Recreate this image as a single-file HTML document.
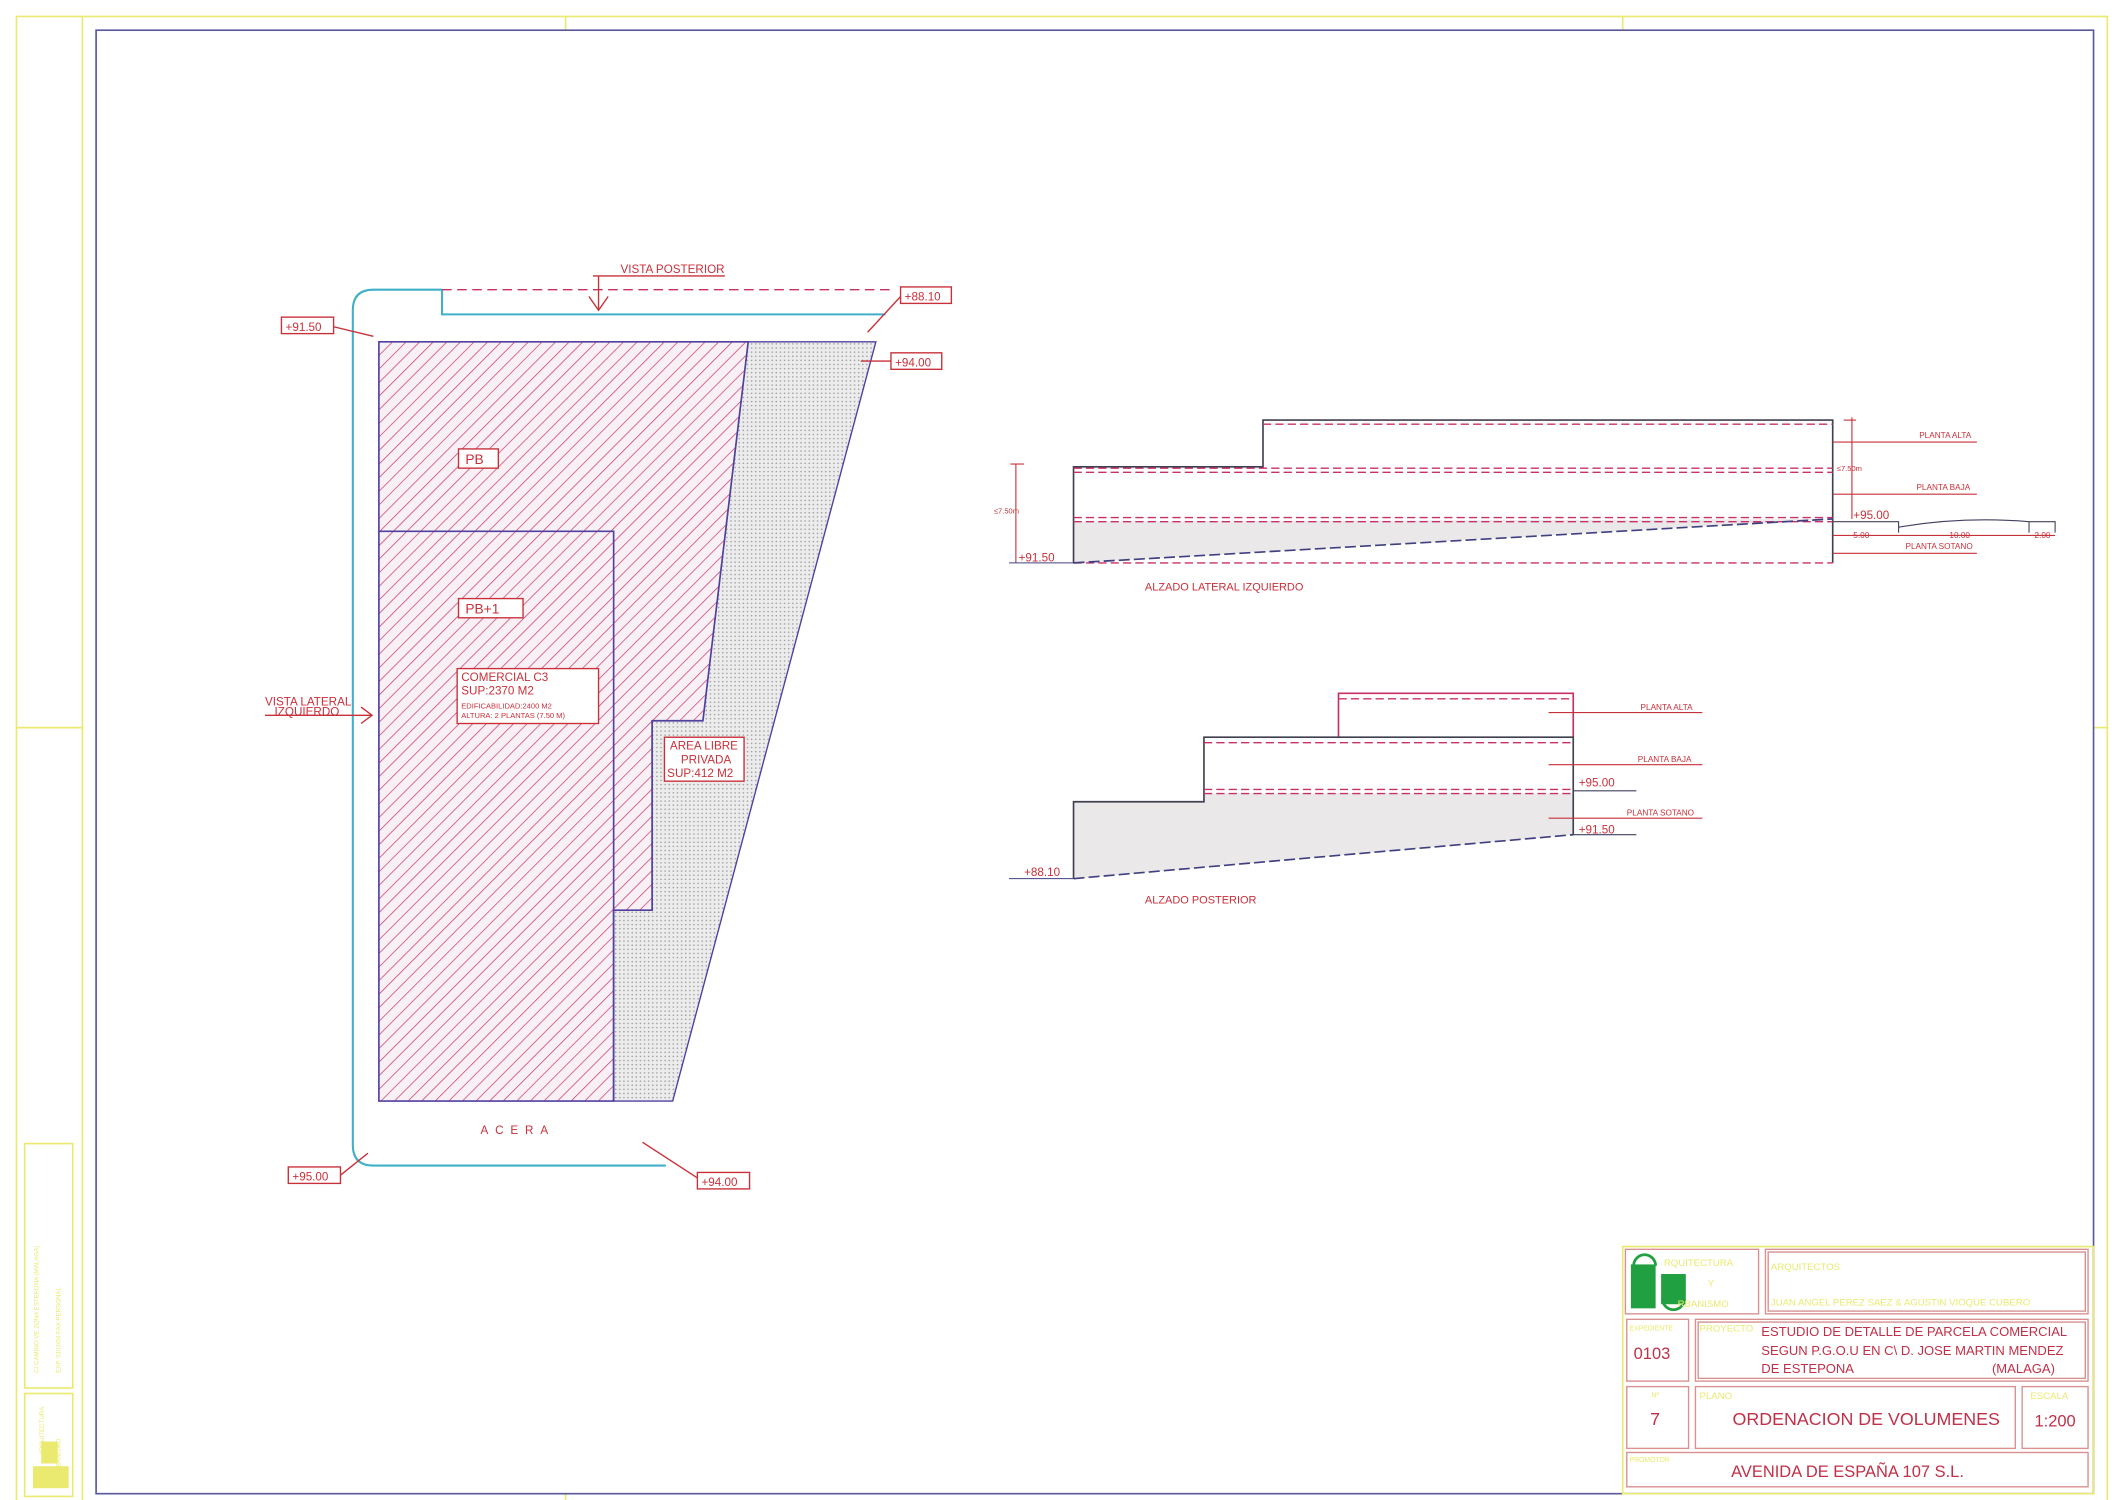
<!DOCTYPE html>
<html><head><meta charset="utf-8"><style>
html,body{margin:0;padding:0;background:#fff;}
svg{display:block;}
text{font-family:"Liberation Sans",sans-serif;}
</style></head><body>
<svg width="2121" height="1500" viewBox="0 0 1545 1092.6" preserveAspectRatio="none" xmlns="http://www.w3.org/2000/svg">
<defs>
<pattern id="hatch" patternUnits="userSpaceOnUse" width="7" height="7" patternTransform="rotate(45)">
<rect width="7" height="7" fill="#f8f0f5"/>
<line x1="0" y1="0" x2="0" y2="7" stroke="#c8306a" stroke-width="1"/>
</pattern>
<pattern id="dots" patternUnits="userSpaceOnUse" width="3" height="3">
<rect width="3" height="3" fill="#ececec"/>
<circle cx="1.5" cy="1.5" r="0.6" fill="#a0a0a0"/>
</pattern>
</defs>
<rect width="1545" height="1093" fill="#fff"/>
<g fill="none" stroke="#eaea70" stroke-width="1.2">
<rect x="12" y="12" width="1523" height="1086"/>
<line x1="60" y1="12" x2="60" y2="1098"/>
<line x1="12" y1="530" x2="60" y2="530"/>
<line x1="412" y1="12" x2="412" y2="22"/>
<line x1="1182" y1="12" x2="1182" y2="22"/>
<line x1="1525" y1="530" x2="1535" y2="530"/>
<line x1="412" y1="1088" x2="412" y2="1098"/>
<rect x="18" y="833" width="35" height="178"/>
<rect x="18" y="1015" width="35" height="75"/>
</g>
<g fill="#eaea70" font-size="4.5">
<text transform="translate(28,1000) rotate(-90)">C/ CAMINO VE  ZONA ESTEPONA (MALAGA)</text>
<text transform="translate(44,1000) rotate(-90)">EXP. 0103/04   FAX PERSONAL</text>
<text transform="translate(32,1060) rotate(-90)">ARQUITECTURA</text>
<text transform="translate(44,1075) rotate(-90)">URBANISMO</text>
<rect x="30" y="1050" width="12" height="16"/>
<rect x="24" y="1068" width="26" height="16"/>
</g>
<rect x="70" y="22" width="1455" height="1066" fill="none" stroke="#5a5a9a" stroke-width="1.2"/>

<polygon points="545,249 638,249 490,802 447,802 447,663 475,663 475,525 512,525" fill="url(#dots)" stroke="#5040a0" stroke-width="1"/>
<polygon points="276,249 545,249 512,525 475,525 475,663 447,663 447,802 276,802" fill="url(#hatch)" stroke="#5040a0" stroke-width="1.2"/>
<polyline points="276,387 447,387 447,802" fill="none" stroke="#5040a0" stroke-width="1.2"/>
<path d="M322,211 H272 Q257,211 257,226 V834 Q257,849 272,849 H485" fill="none" stroke="#40b0c8" stroke-width="1.5"/>
<polyline points="322,211 322,229 645,229" fill="none" stroke="#40b0c8" stroke-width="1.5"/>
<line x1="322" y1="211" x2="648" y2="211" stroke="#c8306a" stroke-width="1" stroke-dasharray="7,4"/>
<g stroke="#c8303a" stroke-width="1" fill="none">
<line x1="432" y1="201" x2="528" y2="201"/>
<line x1="436" y1="201" x2="436" y2="226"/>
<polyline points="429,216 436,226 443,216"/>
<rect x="656" y="209" width="37" height="12"/><line x1="656" y1="216" x2="632" y2="242"/>
<rect x="205" y="231" width="38" height="12"/><line x1="243" y1="238" x2="272" y2="245"/>
<rect x="649" y="257" width="37" height="12"/><line x1="627" y1="263" x2="649" y2="263"/>
<rect x="334" y="327" width="29" height="14" fill="#fff"/>
<rect x="334" y="436" width="47" height="14" fill="#fff"/>
<rect x="333" y="487" width="103" height="40" fill="#fff"/>
<line x1="193" y1="521" x2="271" y2="521"/><polyline points="263,515 271,521 263,527"/>
<rect x="484" y="537" width="58" height="32" fill="#fff"/>
<rect x="210" y="850" width="38" height="12"/><line x1="248" y1="856" x2="268" y2="840"/>
<rect x="508" y="854" width="38" height="12"/><line x1="508" y1="858" x2="468" y2="832"/>
</g>
<g fill="#c8303a" font-size="8.5">
<text x="452" y="199">VISTA  POSTERIOR</text>
<text x="659" y="219">+88.10</text>
<text x="208" y="241">+91.50</text>
<text x="652" y="267">+94.00</text>
<text x="339" y="338" font-size="10">PB</text>
<text x="339" y="447" font-size="10">PB+1</text>
<text x="336" y="496" font-size="8.5">COMERCIAL  C3</text>
<text x="336" y="506" font-size="8.5">SUP:2370  M2</text>
<text x="336" y="516" font-size="5.5">EDIFICABILIDAD:2400  M2</text>
<text x="336" y="523" font-size="5.5">ALTURA:  2  PLANTAS  (7.50  M)</text>
<text x="193" y="514" font-size="8.5">VISTA  LATERAL</text>
<text x="200" y="521" font-size="8.5">IZQUIERDO</text>
<text x="488" y="546" font-size="8.5">AREA  LIBRE</text>
<text x="496" y="556" font-size="8.5">PRIVADA</text>
<text x="486" y="566" font-size="8.5">SUP:412  M2</text>
<text x="350" y="826" letter-spacing="5" font-size="8.5">ACERA</text>
<text x="213" y="860">+95.00</text>
<text x="511" y="864">+94.00</text>
</g>

<polygon points="782,380 1332,378 782,410" fill="#ebe8ea"/>
<g fill="none" stroke="#404050" stroke-width="1.2">
<polyline points="782,410 782,340 920,340 920,306 1335,306 1335,410"/>
</g>
<g fill="none" stroke="#c8306a" stroke-width="1" stroke-dasharray="6,3">
<line x1="920" y1="309" x2="1335" y2="309"/>
<line x1="782" y1="341" x2="1335" y2="341"/>
<line x1="782" y1="344" x2="1335" y2="344"/>
<line x1="782" y1="377" x2="1335" y2="377"/>
<line x1="782" y1="380" x2="1335" y2="380"/>
<line x1="782" y1="410" x2="1335" y2="410"/>
</g>
<line x1="782" y1="410" x2="1335" y2="378" stroke="#404080" stroke-width="1.2" stroke-dasharray="8,3"/>
<g fill="none" stroke="#c8303a" stroke-width="0.8">
<line x1="740" y1="338" x2="740" y2="410"/><line x1="736" y1="338" x2="746" y2="338"/>
<line x1="735" y1="410" x2="782" y2="410" stroke="#404080"/>
<line x1="1349" y1="304" x2="1349" y2="378"/><line x1="1343" y1="306" x2="1352" y2="306"/>
<line x1="1335" y1="322" x2="1440" y2="322"/>
<line x1="1335" y1="360" x2="1440" y2="360"/>
<line x1="1335" y1="403" x2="1440" y2="403"/>
<line x1="1335" y1="390" x2="1497" y2="390"/>
</g>
<path d="M1335,380 H1383 V388 M1383,384 Q1430,376 1478,380 M1478,388 V380 H1497 V388" fill="none" stroke="#404060" stroke-width="0.8"/>
<g fill="#c8303a" font-size="6">
<text x="724" y="374" font-size="5.5">≤7.50m</text>
<text x="742" y="409" font-size="8.5">+91.50</text>
<text x="1338" y="343" font-size="5.5">≤7.50m</text>
<text x="1398" y="319">PLANTA ALTA</text>
<text x="1396" y="357">PLANTA BAJA</text>
<text x="1350" y="378" font-size="8.5">+95.00</text>
<text x="1350" y="392" font-size="6">5.00</text>
<text x="1420" y="392" font-size="6">10.00</text>
<text x="1482" y="392" font-size="6">2.00</text>
<text x="1388" y="400">PLANTA SOTANO</text>
<text x="834" y="430" font-size="8">ALZADO  LATERAL  IZQUIERDO</text>
</g>

<polygon points="782,584 877,584 877,578 1146,578 1146,608 782,640" fill="#ebe8ea"/>
<polyline points="975,537 975,505 1146,505 1146,537" fill="none" stroke="#c8306a" stroke-width="1.2"/>
<polyline points="782,640 782,584 877,584 877,537 1146,537 1146,608" fill="none" stroke="#404050" stroke-width="1.2"/>
<g fill="none" stroke="#c8306a" stroke-width="1" stroke-dasharray="6,3">
<line x1="975" y1="509" x2="1146" y2="509"/>
<line x1="877" y1="541" x2="1146" y2="541"/>
<line x1="877" y1="575" x2="1146" y2="575"/>
<line x1="877" y1="578" x2="1146" y2="578"/>
</g>
<line x1="782" y1="640" x2="1146" y2="608" stroke="#404080" stroke-width="1.2" stroke-dasharray="8,3"/>
<g fill="none" stroke="#c8303a" stroke-width="0.8">
<line x1="1128" y1="519" x2="1240" y2="519"/>
<line x1="1128" y1="557" x2="1240" y2="557"/>
<line x1="1146" y1="576" x2="1192" y2="576" stroke="#404060"/>
<line x1="1128" y1="596" x2="1240" y2="596"/>
<line x1="1146" y1="608" x2="1192" y2="608" stroke="#404060"/>
<line x1="735" y1="640" x2="782" y2="640" stroke="#404080"/>
</g>
<g fill="#c8303a" font-size="6">
<text x="1195" y="517">PLANTA ALTA</text>
<text x="1193" y="555">PLANTA BAJA</text>
<text x="1150" y="573" font-size="8.5">+95.00</text>
<text x="1185" y="594">PLANTA SOTANO</text>
<text x="1150" y="607" font-size="8.5">+91.50</text>
<text x="746" y="638" font-size="8.5">+88.10</text>
<text x="834" y="658" font-size="8">ALZADO  POSTERIOR</text>
</g>

<rect x="1182" y="908" width="343" height="180" fill="none" stroke="#eaea70" stroke-width="1.2"/>
<g fill="none" stroke="#d89090" stroke-width="1">
<rect x="1184" y="910" width="97" height="47"/>
<rect x="1286" y="910" width="235" height="47"/><rect x="1288" y="912" width="231" height="43"/>
<rect x="1185" y="961" width="45" height="45"/>
<rect x="1235" y="961" width="286" height="45"/><rect x="1237" y="963" width="282" height="41"/>
<rect x="1185" y="1010" width="45" height="45"/>
<rect x="1235" y="1010" width="233" height="45"/>
<rect x="1473" y="1010" width="48" height="45"/>
<rect x="1185" y="1058" width="336" height="25"/>
</g>
<g fill="#20a040">
<rect x="1188" y="921" width="18" height="32"/>
<rect x="1210" y="928" width="18" height="22"/>
</g>
<path d="M1190,922 A8,8 0 0 1 1206,922" fill="none" stroke="#20a040" stroke-width="2"/>
<path d="M1211,946 A8,8 0 0 0 1227,946" fill="none" stroke="#20a040" stroke-width="2"/>
<g fill="#eaea70" font-size="7">
<text x="1212" y="922">RQUITECTURA</text>
<text x="1244" y="937">Y</text>
<text x="1222" y="952">RBANISMO</text>
<text x="1290" y="925">ARQUITECTOS</text>
<text x="1290" y="951">JUAN ANGEL PEREZ SAEZ &amp; AGUSTIN VIOQUE CUBERO</text>
<text x="1187" y="969" font-size="5">EXPEDIENTE</text>
<text x="1238" y="970">PROYECTO</text>
<text x="1203" y="1018" font-size="5">Nº</text>
<text x="1238" y="1019">PLANO</text>
<text x="1479" y="1019">ESCALA</text>
<text x="1187" y="1065" font-size="5">PROMOTOR</text>
</g>
<g fill="#c03048" font-size="9.5">
<text x="1283" y="973">ESTUDIO  DE  DETALLE  DE  PARCELA  COMERCIAL</text>
<text x="1283" y="987">SEGUN  P.G.O.U  EN  C\  D.  JOSE  MARTIN  MENDEZ</text>
<text x="1283" y="1000">DE  ESTEPONA</text>
<text x="1451" y="1000">(MALAGA)</text>
<text x="1190" y="990" font-size="12">0103</text>
<text x="1202" y="1038" font-size="13">7</text>
<text x="1262" y="1038" font-size="13">ORDENACION  DE  VOLUMENES</text>
<text x="1482" y="1039" font-size="12">1:200</text>
<text x="1261" y="1076" font-size="12">AVENIDA  DE  ESPAÑA  107  S.L.</text>
</g>
</svg>
</body></html>
